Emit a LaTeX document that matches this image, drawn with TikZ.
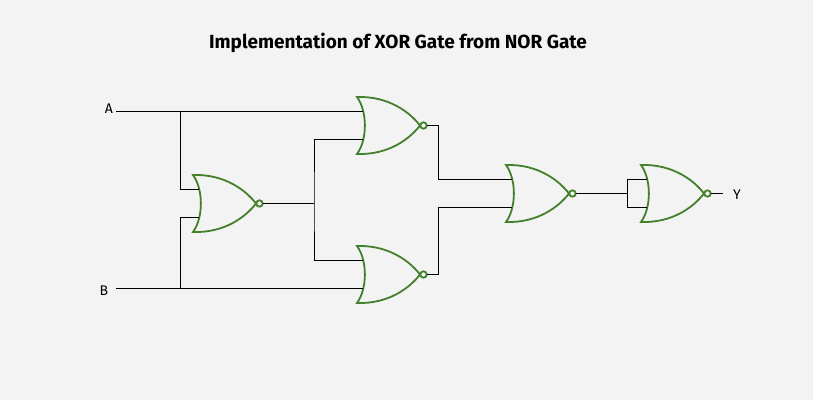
\documentclass[tikz,border=0pt]{standalone}
\usepackage{fontspec}
\setmainfont{Fira Sans}
\definecolor{bgcol}{RGB}{243,243,243}
\definecolor{gatecol}{RGB}{66,128,44}
\tikzset{
  gate/.style = {draw=gatecol, line width=1.8pt, fill=bgcol},
  wire/.style = {draw=black, line width=0.8pt},
  lbl/.style  = {inner sep=1pt, font=\fontsize{14}{16}\selectfont},
  norgate/.pic = {
    \draw[gate] (0,-28.5) .. controls (32,-29.5) and (53,-13) .. (63,0)
                .. controls (53,13) and (32,29.5) .. (0,28.5)
                .. controls (10.5,14) and (10.5,-14) .. cycle;
    \draw[gate] (66.5,0) circle (3.2);
    \coordinate (-in1) at (6,-14);
    \coordinate (-in2) at (6,14);
    \coordinate (-out) at (69.7,0);
  }
}
\begin{document}
\begin{tikzpicture}[x=1pt, y=-1pt]
\fill[bgcol] (0,0) rectangle (813,400);
\useasboundingbox (0,0) rectangle (813,400);
\node (title) at (398,43) {\fontsize{19}{22}\selectfont\bfseries Implementation of XOR Gate from NOR Gate};
% gates
\pic (g1) at (193,203.5) {norgate};
\pic (g2) at (357,125.5) {norgate};
\pic (g3) at (357,274.5) {norgate};
\pic (g4) at (506,193.5) {norgate};
\pic (g5) at (641,193.5) {norgate};
% inputs and output
\node[lbl] (A) at (109,109) {A};
\node[lbl] (B) at (104,291) {B};
\node[lbl] (Y) at (737,195) {Y};
\coordinate (inA) at (116,111.5);
\coordinate (inB) at (116,288.5);
\coordinate (jA) at (180,111.5);
\coordinate (jB) at (180,288.5);
\coordinate (j1) at (314,203.5);
\coordinate (m2) at (438,0);
\coordinate (j4) at (627,193.5);
\coordinate (outY) at (723,193.5);
% wires
\draw[wire] (inA) -- (g2-in1);
\draw[wire] (inB) -- (g3-in2);
\draw[wire] (jA) |- (g1-in1);
\draw[wire] (jB) |- (g1-in2);
\draw[wire] (g1-out) -- (j1);
\draw[wire] (g2-in2) -| (j1) |- (g3-in1);
\draw[wire] (g2-out) -| (m2 |- g4-in1) -- (g4-in1);
\draw[wire] (g3-out) -| (m2 |- g4-in2) -- (g4-in2);
\draw[wire] (g4-out) -- (j4);
\draw[wire] (g5-in1) -| (j4) |- (g5-in2);
\draw[wire] (g5-out) -- (outY);
\end{tikzpicture}
\end{document}
